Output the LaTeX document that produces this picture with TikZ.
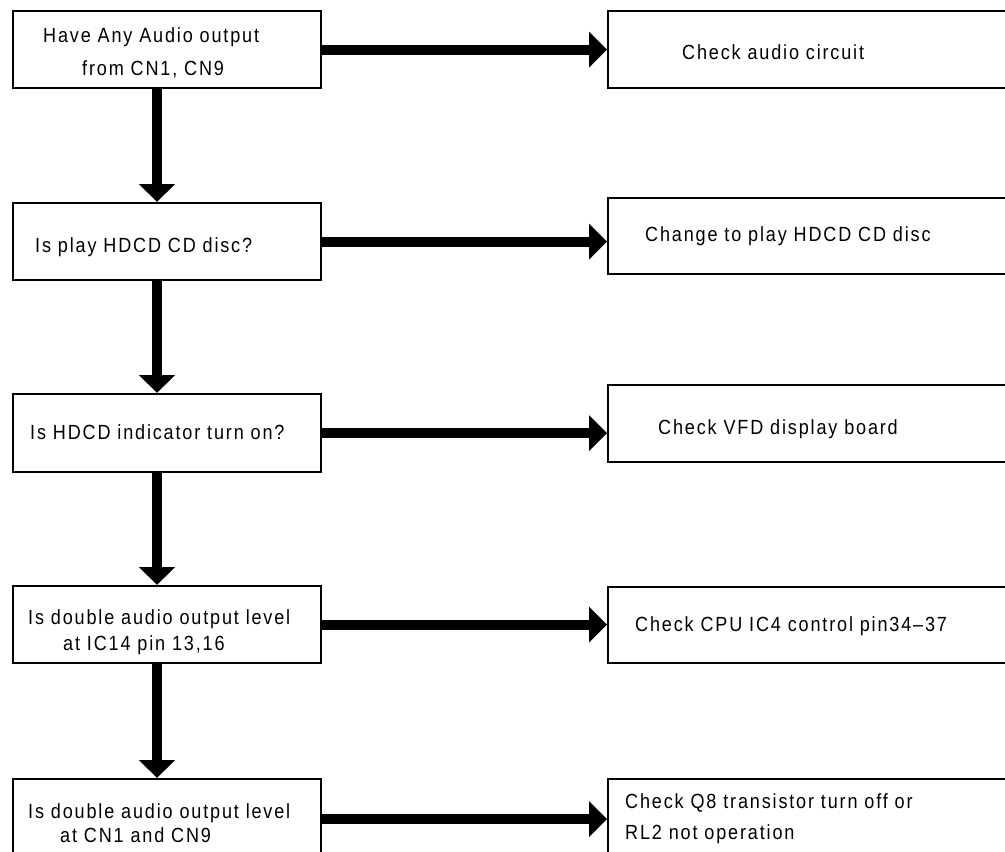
\documentclass[tikz,border=0pt]{standalone}
\usepackage{fontspec}
\setmainfont{Liberation Sans}[LetterSpace=9, FakeStretch=0.88]
\usetikzlibrary{arrows.meta}
\begin{document}
\begin{tikzpicture}[x=1pt,y=-1pt,
  box/.style={draw, line width=2.2pt, rectangle, inner sep=0pt, anchor=north west},
  lbox/.style={box, minimum width=308pt},
  rbox/.style={box, minimum width=420pt},
  txt/.style={anchor=base west, inner sep=0pt, font=\fontsize{20.5}{24}\selectfont},
  flow/.style={line width=10pt, -{Triangle[length=18pt,width=35pt]}}]
\useasboundingbox (0,0) rectangle (1005,852);
\clip (0,0) rectangle (1005,852);
\fill[white] (0,0) rectangle (1005,852);

% question boxes (left column)
\node[lbox, minimum height=77pt] (L1) at (12,10) {};
\node[lbox, minimum height=77pt] (L2) at (12,202) {};
\node[lbox, minimum height=78pt] (L3) at (12,393) {};
\node[lbox, minimum height=77pt] (L4) at (12,585) {};
\node[lbox, minimum height=80pt] (L5) at (12,778) {};

% action boxes (right column)
\node[rbox, minimum height=77pt] (R1) at (607,10) {};
\node[rbox, minimum height=76pt] (R2) at (607,197) {};
\node[rbox, minimum height=77pt] (R3) at (607,384) {};
\node[rbox, minimum height=76pt] (R4) at (607,586) {};
\node[rbox, minimum height=80pt] (R5) at (607,778) {};

% texts
\node[txt] (t1a) at (43,42) {Have Any Audio output};
\node[txt] (t1b) at (82,75) {from CN1, CN9};
\node[txt] (t2) at (35,252) {Is play HDCD CD disc?};
\node[txt] (t3) at (30,439) {Is HDCD indicator turn on?};
\node[txt] (t4a) at (28,624) {Is double audio output level};
\node[txt] (t4b) at (63,650) {at IC14 pin 13,16};
\node[txt] (t5a) at (28,818) {Is double audio output level};
\node[txt] (t5b) at (60,842) {at CN1 and CN9};

\node[txt] (r1) at (682,59) {Check audio circuit};
\node[txt] (r2) at (645,241) {Change to play HDCD CD disc};
\node[txt] (r3) at (658,434) {Check VFD display board};
\node[txt] (r4) at (635,631) {Check CPU IC4 control pin34--37};
\node[txt] (r5a) at (625,808) {Check Q8 transistor turn off or};
\node[txt] (r5b) at (625,839) {RL2 not operation};

% downward flow
\foreach \a/\b in {L1/L2,L2/L3,L3/L4,L4/L5}
  \draw[flow] (\a.south -| 157,0) -- (\b.north -| 157,0);

% branches to the right
\foreach \i in {1,...,5}
  \draw[flow] (L\i.east) -- (R\i.west |- L\i.east);
\end{tikzpicture}
\end{document}
